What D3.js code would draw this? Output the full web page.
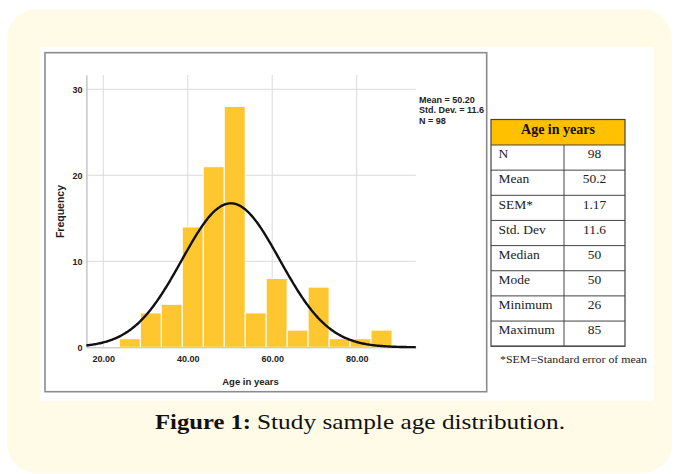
<!DOCTYPE html>
<html><head><meta charset="utf-8">
<script src="https://cdn.jsdelivr.net/npm/d3@7"></script>
<style>body{margin:0;background:#fff;} svg{display:block}</style>
</head><body><svg id="c" width="676" height="474"></svg>
<script>
// ---- data ----
const binStarts = [23.80, 28.77, 33.73, 38.70, 43.67, 48.64, 53.60, 58.57, 63.54, 68.50, 73.47, 78.44, 83.40];
const binWidth = 4.967;
const frequencies = [1, 4, 5, 14, 21, 28, 4, 8, 2, 7, 1, 1, 2];
const meanAge = 50.20, sdAge = 11.6, nAge = 98;
const xTicks = [20, 40, 60, 80];
const yTicks = [0, 10, 20, 30];
const legendLines = ["Mean = 50.20", "Std. Dev. = 11.6", "N = 98"];
const tableTitle = "Age in years";
const tableLabels = ["N", "Mean", "SEM*", "Std. Dev", "Median", "Mode", "Minimum", "Maximum"];
const tableValues = ["98", "50.2", "1.17", "11.6", "50", "50", "26", "85"];
const footnote = "*SEM=Standard error of mean";
const captionBold = "Figure 1:";
const captionText = "Study sample age distribution.";

const svg = d3.select("#c");
const sans = "'Liberation Sans', Arial, sans-serif";
const serif = "'Liberation Serif', 'Times New Roman', serif";

// backgrounds
svg.append("rect").attr("x", 7).attr("y", 9).attr("width", 665).attr("height", 464)
  .attr("rx", 30).attr("fill", "#fffbe7");
svg.append("rect").attr("x", 40).attr("y", 47).attr("width", 613.5).attr("height", 353.7).attr("fill", "#fff");
svg.append("rect").attr("x", 45).attr("y", 52.7).attr("width", 441.7).attr("height", 339)
  .attr("fill", "#fff").attr("stroke", "#8c8c8c").attr("stroke-width", 1.6);

svg.append("clipPath").attr("id", "cp").append("rect")
  .attr("x", 45).attr("y", 52.7).attr("width", 441).attr("height", 339);

// scales
const x = d3.scaleLinear().domain([16, 94]).range([86.4, 415.8]);
const y = d3.scaleLinear().domain([0, 31.66]).range([347.3, 75]);

const g = svg.append("g").attr("clip-path", "url(#cp)");

// gridlines
g.append("g").selectAll("line").data(yTicks.filter(d => d > 0)).join("line")
  .attr("x1", x(16)).attr("x2", x(94)).attr("y1", d => y(d)).attr("y2", d => y(d))
  .attr("stroke", "#dadada").attr("stroke-width", 1);
g.append("g").selectAll("line").data(xTicks).join("line")
  .attr("x1", d => x(d)).attr("x2", d => x(d)).attr("y1", y(31.66)).attr("y2", y(0))
  .attr("stroke", "#dadada").attr("stroke-width", 1);

// bars
g.append("g").selectAll("rect").data(frequencies).join("rect")
  .attr("x", (d, i) => x(binStarts[i]))
  .attr("width", (d, i) => x(binStarts[i] + binWidth) - x(binStarts[i]))
  .attr("y", d => y(d)).attr("height", d => y(0) - y(d))
  .attr("fill", "#fec730").attr("stroke", "#fff").attr("stroke-width", 1);

// axes
const yAxis = g.append("g").attr("transform", `translate(${x(16)},0)`)
  .call(d3.axisLeft(y).tickValues(yTicks).tickSize(0).tickPadding(4).tickFormat(d3.format("d")));
yAxis.select(".domain").attr("stroke", "#b8b8b8").attr("stroke-width", 1.2);
yAxis.selectAll("text").attr("font-family", sans).attr("font-size", 9).attr("font-weight", "bold").attr("fill", "#222");

const xAxis = g.append("g").attr("transform", `translate(0,${y(0)})`)
  .call(d3.axisBottom(x).tickValues(xTicks).tickSize(0).tickPadding(8).tickFormat(d3.format(".2f")));
xAxis.select(".domain").attr("stroke", "#b8b8b8").attr("stroke-width", 1);
xAxis.selectAll("text").attr("font-family", sans).attr("font-size", 9).attr("font-weight", "bold").attr("fill", "#222");

// normal curve
const curveXs = d3.range(16, 94.01, 0.25);
const scaleFactor = nAge * binWidth / (sdAge * Math.sqrt(2 * Math.PI));
const line = d3.line().x(d => x(d)).y(d => y(scaleFactor * Math.exp(-0.5 * ((d - meanAge) / sdAge) ** 2)));
g.append("path").datum(curveXs).attr("d", line).attr("fill", "none")
  .attr("stroke", "#111").attr("stroke-width", 2.4);

// titles
g.append("text").attr("x", 250.5).attr("y", 384.5).attr("text-anchor", "middle")
  .attr("font-family", sans).attr("font-size", 9.5).attr("font-weight", "bold").attr("fill", "#222").text("Age in years");
g.append("text").attr("transform", "translate(64,211.5) rotate(-90)").attr("text-anchor", "middle")
  .attr("font-family", sans).attr("font-size", 10.5).attr("font-weight", "bold").attr("fill", "#222").text("Frequency");

// legend
g.append("g").selectAll("text").data(legendLines).join("text")
  .attr("x", 419).attr("y", (d, i) => 102.6 + i * 10.6)
  .attr("font-family", sans).attr("font-size", 9).attr("font-weight", "bold").attr("fill", "#222").text(d => d);

// table
const tx0 = 491, tx1 = 564, tx2 = 625, ty0 = 119.5, hh = 25.5, rh = 25.15;
const tg = svg.append("g");
tg.append("rect").attr("x", tx0).attr("y", ty0).attr("width", tx2 - tx0).attr("height", hh)
  .attr("fill", "#ffc000");
tg.append("text").attr("x", (tx0 + tx2) / 2).attr("y", ty0 + 14)
  .attr("text-anchor", "middle").attr("font-family", serif).attr("font-size", 14).attr("font-weight", "bold")
  .attr("fill", "#111").text(tableTitle);
const rows = tg.append("g").selectAll("g").data(tableLabels).join("g")
  .attr("transform", (d, i) => `translate(0,${ty0 + hh + i * rh})`);
rows.append("text").attr("x", tx0 + 7.5).attr("y", 13.3).attr("font-family", serif).attr("font-size", 13.5)
  .attr("fill", "#222").text(d => d);
rows.append("text").attr("x", (tx1 + tx2) / 2).attr("y", 13.3).attr("text-anchor", "middle")
  .attr("font-family", serif).attr("font-size", 13.5).attr("fill", "#222").text((d, i) => tableValues[i]);
// grid lines of table
const tb = ty0 + hh + tableLabels.length * rh;
tg.append("g").selectAll("line").data(d3.range(tableLabels.length + 1)).join("line")
  .attr("x1", tx0).attr("x2", tx2).attr("y1", i => ty0 + hh + i * rh).attr("y2", i => ty0 + hh + i * rh)
  .attr("stroke", "#444").attr("stroke-width", 1);
tg.append("line").attr("x1", tx1).attr("x2", tx1).attr("y1", ty0 + hh).attr("y2", tb).attr("stroke", "#444");
tg.append("rect").attr("x", tx0).attr("y", ty0).attr("width", tx2 - tx0).attr("height", tb - ty0)
  .attr("fill", "none").attr("stroke", "#444").attr("stroke-width", 1.2);
tg.append("text").attr("x", 500).attr("y", 363).attr("font-family", serif).attr("font-size", 11)
  .attr("textLength", 147).attr("lengthAdjust", "spacingAndGlyphs").attr("fill", "#222").text(footnote);

// caption
svg.append("text").attr("x", 155).attr("y", 429.3).attr("font-family", serif).attr("font-size", 21)
  .attr("font-weight", "bold").attr("textLength", 96).attr("lengthAdjust", "spacingAndGlyphs")
  .attr("fill", "#111").text(captionBold);
svg.append("text").attr("x", 257).attr("y", 429.3).attr("font-family", serif).attr("font-size", 21)
  .attr("textLength", 308).attr("lengthAdjust", "spacingAndGlyphs")
  .attr("fill", "#111").text(captionText);
</script></body></html>
